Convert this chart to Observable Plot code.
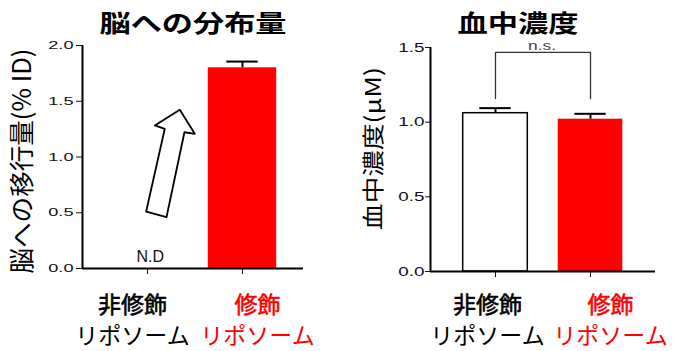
<!DOCTYPE html>
<html>
<head>
<meta charset="utf-8">
<script src="https://cdn.jsdelivr.net/npm/d3@7"></script>
<script src="https://cdn.jsdelivr.net/npm/@observablehq/plot@0.6"></script>
<style>
  body { margin: 0; background: #fff; }
  #wrap { display: flex; width: 677px; height: 351px; overflow: hidden; }
</style>
</head>
<body>
<div id="wrap"></div>
<script>
// ---- data ----
const catLine1 = ["非修飾", "修飾"];
const catLine2 = ["リポソーム", "リポソーム"];
const catColors = ["#000000", "#ff0000"];
const barFills = ["#ffffff", "#ff0000"];

const brainTitle = "脳への分布量";
const brainLabel = "脳への移行量(% ID)";
const brainMean = [null, 1.80];      // 非修飾 = N.D
const brainSem = [null, 0.056];
const brainTicks = [0, 0.5, 1.0, 1.5, 2.0];
const ndText = "N.D";

const bloodTitle = "血中濃度";
const bloodLabel = "血中濃度(μM)";
const bloodMean = [1.06, 1.02];
const bloodSem = [0.034, 0.036];
const bloodTicks = [0, 0.5, 1.0, 1.5];
const nsText = "n.s.";
const bracketX = [0, 0, 1, 1];
const bracketY = [1.158, 1.467, 1.467, 1.158];

// outlined arrow annotation (data space of the left chart)
const arrowX = [0.34, 0.498, 0.389, 0.20, -0.014, 0.182, 0.077, 0.34];
const arrowY = [1.423, 1.208, 1.222, 0.46, 0.511, 1.253, 1.283, 1.423];

const CJK = "'Noto Sans CJK JP', 'Noto Sans CJK SC', sans-serif";
const LATIN = "'Liberation Sans', Arial, sans-serif";

function chart(cfg) {
  const rows = cfg.mean.map((m, i) => ({i, mean: m, sem: cfg.sem[i], fill: barFills[i]}));
  const valid = rows.filter(d => d.mean != null);
  const marks = [];
  marks.push(Plot.rectY(valid, {x1: d => d.i - cfg.hw, x2: d => d.i + cfg.hw, y: "mean",
    fill: "fill", stroke: d => d.i === 0 ? "#000" : "none", strokeWidth: 1.5}));
  marks.push(Plot.ruleX(valid, {x: "i", y1: "mean", y2: d => d.mean + d.sem, stroke: "#000", strokeWidth: 2}));
  marks.push(Plot.ruleY(valid, {y: d => d.mean + d.sem, x1: d => d.i - 0.165, x2: d => d.i + 0.165, stroke: "#000", strokeWidth: 2}));
  marks.push(Plot.ruleX([cfg.xdomain[0]], {y1: 0, y2: cfg.ydomain[1], stroke: "#000", strokeWidth: 2}));
  marks.push(Plot.ruleY([0], {x1: cfg.xdomain[0], x2: cfg.xdomain[1], stroke: "#000", strokeWidth: 2}));
  marks.push(Plot.text([cfg.title], {frameAnchor: "top", text: d => d, dx: cfg.titleDx, dy: cfg.titleDy,
    fontSize: 24, fontWeight: "bold", fontFamily: CJK, fill: "#000", textAnchor: "middle", lineAnchor: "middle"}));
  marks.push(Plot.text([cfg.ylabel], {frameAnchor: "left", text: d => d, rotate: -90, dx: cfg.ylDx, dy: cfg.ylDy,
    fontSize: cfg.ylFont, fontFamily: CJK, fill: "#000", textAnchor: "middle", lineAnchor: "middle"}));
  catLine1.forEach((t, i) => {
    marks.push(Plot.text([t], {x: [i], frameAnchor: "bottom", text: d => d, dx: cfg.catDx[i], dy: cfg.l1dy,
      fontSize: 23, fontFamily: CJK, fill: catColors[i], stroke: catColors[i], strokeWidth: 0.6, lineAnchor: "middle"}));
    marks.push(Plot.text([catLine2[i]], {x: [i], frameAnchor: "bottom", text: d => d, dx: cfg.catDx[i], dy: cfg.l2dy,
      fontSize: 23, fontFamily: CJK, fill: catColors[i], lineAnchor: "middle"}));
  });
  marks.push(...cfg.extra);
  return Plot.plot({
    width: cfg.width, height: 351,
    marginLeft: cfg.ml, marginRight: cfg.mr, marginTop: cfg.mt, marginBottom: cfg.mb,
    x: {domain: cfg.xdomain, ticks: [0, 1], tickFormat: () => "", tickSize: 6, label: null},
    y: {domain: cfg.ydomain, ticks: cfg.ticks, tickFormat: d3.format(".1f"), tickSize: cfg.yts, tickPadding: cfg.ytp, label: null},
    style: {fontFamily: LATIN, fontSize: cfg.tickFont + "px", color: "#111", background: "#fff", overflow: "visible"},
    marks
  });
}

const left = chart({
  width: 338, ml: 82, mr: 35, mt: 45, mb: 83, hw: 0.36,
  xdomain: [-0.684, 1.642], ydomain: [0, 2], ticks: brainTicks,
  yts: 6, ytp: 3, tickFont: 11,
  mean: brainMean, sem: brainSem,
  title: brainTitle, titleDx: 0, titleDy: -21,
  ylabel: brainLabel, ylFont: 25, ylDx: -60, ylDy: 4,
  catDx: [-15, 15], l1dy: 37, l2dy: 68,
  extra: [
    Plot.line(arrowX.map((x, k) => ({x, y: arrowY[k]})), {x: "x", y: "y", fill: "#fff", stroke: "#000", strokeWidth: 1.8}),
    Plot.text([ndText], {x: [0.03], y: [0], text: d => d, dy: -12, fontSize: 16, fontFamily: LATIN, fill: "#111", lineAnchor: "middle"})
  ]
});
const right = chart({
  width: 339, ml: 92, mr: 22, mt: 47, mb: 80, hw: 0.34,
  xdomain: [-0.684, 1.684], ydomain: [0, 1.5], ticks: bloodTicks,
  yts: 5, ytp: 1, tickFont: 13,
  mean: bloodMean, sem: bloodSem,
  title: bloodTitle, titleDx: -25, titleDy: -23,
  ylabel: bloodLabel, ylFont: 22, ylDx: -57, ylDy: -11,
  catDx: [-8, 20], l1dy: 34, l2dy: 65,
  extra: [
    Plot.line(bracketX.map((x, k) => ({x, y: bracketY[k]})), {x: "x", y: "y", stroke: "#333", strokeWidth: 1.3}),
    Plot.text([nsText], {x: [0.49], y: [1.467], text: d => d, dy: -6, fontSize: 12, fontFamily: LATIN, fill: "#444", lineAnchor: "middle"})
  ]
});
const wrap = document.getElementById("wrap");
wrap.appendChild(left);
wrap.appendChild(right);

// horizontal stretch of selected texts (matched by content), as in the reference
function fit(svg, pred, target) {
  svg.querySelectorAll("text").forEach(t => {
    if (!pred(t.textContent)) return;
    const L = t.getComputedTextLength();
    const T = typeof target === "function" ? target(L) : target;
    t.setAttribute("textLength", T);
    t.setAttribute("lengthAdjust", "spacingAndGlyphs");
  });
}
const isTick = s => /^\d\.\d$/.test(s);
fit(left, isTick, L => L * 1.65);
fit(right, isTick, L => L * 1.45);
fit(left, s => s === brainTitle, 187);
fit(right, s => s === bloodTitle, 121);
fit(left, s => s === brainLabel, 225);
fit(right, s => s === bloodLabel, 163);
fit(right, s => s === nsText, L => L * 1.45);
</script>
</body>
</html>
